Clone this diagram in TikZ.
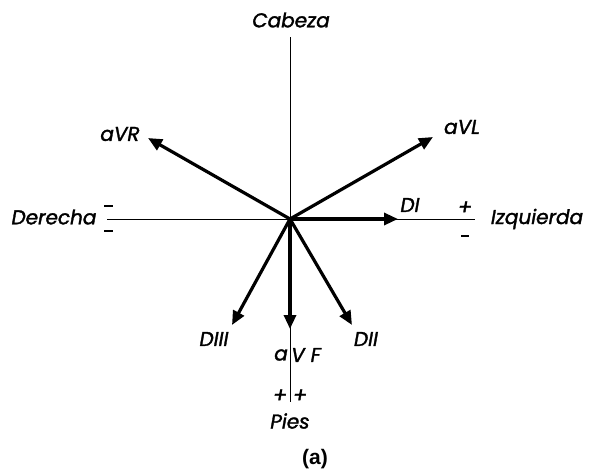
\documentclass[tikz,border=0pt]{standalone}
\usepackage{fontspec}
\setmainfont{Poppins}[ItalicFeatures={FakeBold=1.6}]
\newfontfamily\capfont{Liberation Sans}
\usetikzlibrary{arrows.meta}
\begin{document}
\begin{tikzpicture}[x=1pt,y=-1pt,
  axis/.style={line width=1pt},
  vec/.style={line width=3.2pt,-{Triangle[length=14pt,width=12pt]}},
  lbl/.style={font=\itshape\fontsize{20}{20}\selectfont,inner sep=0pt},
  sgn/.style={font=\itshape\fontsize{21}{21}\selectfont,inner sep=0pt}]
\useasboundingbox (0,0) rectangle (589,474);
\coordinate (O) at (290,219);
\coordinate (top) at (290,37);
\coordinate (bot) at (290,402);
\coordinate (lft) at (107,219);
\coordinate (rgt) at (475,219);
\draw[axis] (top) -- (bot);
\draw[axis] (lft) -- (rgt);
\coordinate (tVR) at (148,138);
\coordinate (tVL) at (433,137);
\coordinate (tI) at (398,219);
\coordinate (tIII) at (232,325);
\coordinate (tVF) at (290,329);
\coordinate (tII) at (352,325);
\draw[vec] (O) -- (tVR);
\draw[vec] (O) -- (tVL);
\draw[vec] (O) -- (tI);
\draw[vec] (O) -- (tIII);
\draw[vec] (O) -- (tVF);
\draw[vec] (O) -- (tII);
\node[lbl] (cab) at (291,20) {Cabeza};
\node[lbl] (lVR) at (120,134) {aVR};
\node[lbl] (lVL) at (462,127) {aVL};
\node[lbl] (der) at (54,217) {Derecha};
\node[lbl] (izq) at (537,219) {Izquierda};
\node[lbl] (lI) at (410,205) {DI};
\node[lbl] (lIII) at (214,339) {DIII};
\node[lbl] (lII) at (366,339) {DII};
\node[lbl,anchor=east] (la) at (288,355) {a};
\node[lbl,anchor=west] (lVF) at (291,355) {V F};
\node[lbl] (pies) at (290,421) {Pies};
\draw[line width=2.8pt] (104,206) -- (113,206);
\draw[line width=2.8pt] (104,231) -- (113,231);
\draw[line width=2.8pt] (461,236) -- (469,236);
\node[sgn] (p1) at (465,208) {+};
\node[sgn] (p2) at (280,396) {+};
\node[sgn] (p3) at (300,396) {+};
\node[font=\capfont\bfseries\fontsize{21}{21}\selectfont,inner sep=0pt] (cap) at (315,459) {(a)};
\end{tikzpicture}
\end{document}
